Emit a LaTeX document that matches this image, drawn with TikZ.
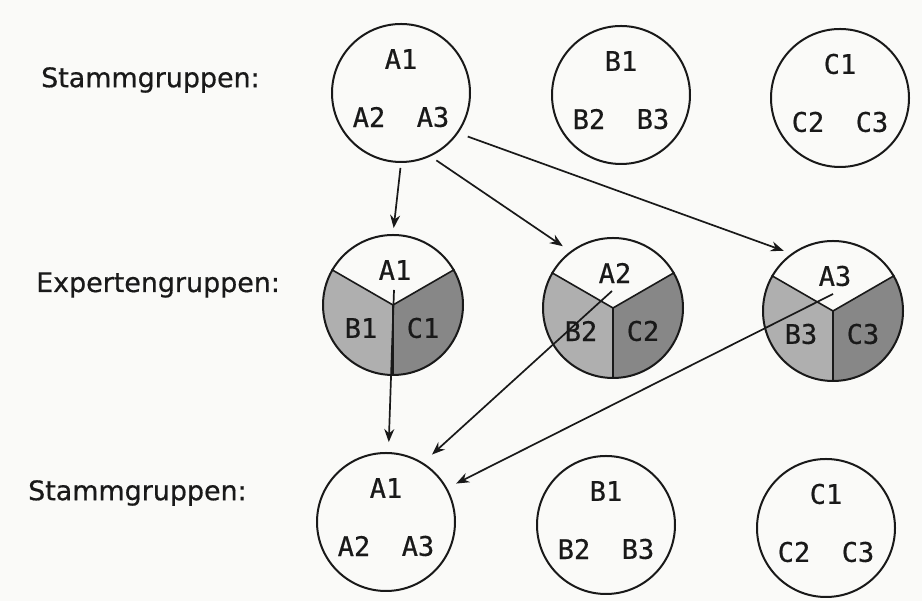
\documentclass[tikz,border=0pt]{standalone}
\usepackage{fontspec}
\usetikzlibrary{arrows.meta}
\newfontfamily\labelfont[FakeBold=0.6]{DejaVu Sans}
\newfontfamily\memfont[FakeBold=0.6]{DejaVu Sans Mono}
\definecolor{paper}{RGB}{250,250,248}
\definecolor{ink}{RGB}{25,25,25}
\definecolor{bshade}{RGB}{175,175,175}
\definecolor{cshade}{RGB}{135,135,135}
\tikzset{
  grp/.style={circle, draw=ink, line width=2pt, minimum size=138pt, inner sep=0pt},
  grouplabel/.style={font=\labelfont\fontsize{26.9}{30}\selectfont, text=ink, anchor=west, inner sep=0pt},
  mem/.style={font=\memfont\fontsize{27}{30}\selectfont, text=ink, inner sep=0pt},
  divider/.style={draw=ink, line width=1.6pt},
  conn/.style={draw=ink, line width=1.7pt, -{Stealth[length=13pt,width=10pt]}}
}
\begin{document}
\begin{tikzpicture}[x=1pt,y=1pt]
\useasboundingbox[fill=paper] (0,0) rectangle (922,601);

% labels on the left
\node[grouplabel] (l1) at (41,521) {Stammgruppen:};
\node[grouplabel] (l2) at (36,316) {Expertengruppen:};
\node[grouplabel] (l3) at (28,108) {Stammgruppen:};

% sector shading of the expert groups
\foreach \cx/\cy in {393/296, 613/293, 833/290}{
  \fill[bshade] (\cx,\cy) -- ++(150:70) arc[start angle=150,end angle=270,radius=70] -- cycle;
  \fill[cshade] (\cx,\cy) -- ++(270:70) arc[start angle=270,end angle=390,radius=70] -- cycle;
}

% top Stammgruppen
\node[grp] (TA) at (401,508) {};
\node[grp] (TB) at (621,506) {};
\node[grp] (TC) at (840,503) {};
% expert groups
\node[grp, minimum size=140pt] (MA) at (393,296) {};
\node[grp, minimum size=140pt] (MB) at (613,293) {};
\node[grp, minimum size=140pt] (MC) at (833,290) {};
% bottom Stammgruppen
\node[grp] (BA) at (386,79) {};
\node[grp] (BB) at (606,76) {};
\node[grp] (BC) at (826,73) {};

% dividers of expert circles
\foreach \n in {MA,MB,MC}{
  \draw[divider] (\n.center) -- (\n.150);
  \draw[divider] (\n.center) -- (\n.30);
  \draw[divider] (\n.center) -- (\n.270);
}

% members of Stammgruppen
\foreach \n/\l in {TA/A, TB/B, TC/C, BA/A, BB/B, BC/C}{
  \node[mem] (\n1) at ([yshift=34pt]\n.center) {\l1};
  \node[mem] (\n2) at ([xshift=-32pt,yshift=-24pt]\n.center) {\l2};
  \node[mem] (\n3) at ([xshift=32pt,yshift=-24pt]\n.center) {\l3};
}
% members of expert groups
\foreach \n/\i in {MA/1, MB/2, MC/3}{
  \node[mem] (\n a) at ([xshift=2pt,yshift=35pt]\n.center) {A\i};
  \node[mem] (\n b) at ([xshift=-32pt,yshift=-23pt]\n.center) {B\i};
  \node[mem] (\n c) at ([xshift=30pt,yshift=-23pt]\n.center) {C\i};
}

% connectors: Stammgruppe A to expert groups
\draw[conn, shorten <=5pt, shorten >=6pt] (TA.south) -- (MA.north);
\draw[conn, shorten <=7pt, shorten >=9pt] (TA.-65) -- (MB.127);
\draw[conn, shorten <=10pt, shorten >=8pt] (TA.-35) -- (MC.126);

% connectors: expert groups back to Stammgruppe A
\coordinate (pA) at (394,311);
\coordinate (pB) at (612,310);
\coordinate (pC) at (833,307);
\draw[conn, shorten >=10pt] (pA) -- (BA.88);
\draw[conn, shorten >=12pt] (pB) -- (BA.58);
\draw[conn, shorten >=10pt] (pC) -- (BA.29);
\end{tikzpicture}
\end{document}
